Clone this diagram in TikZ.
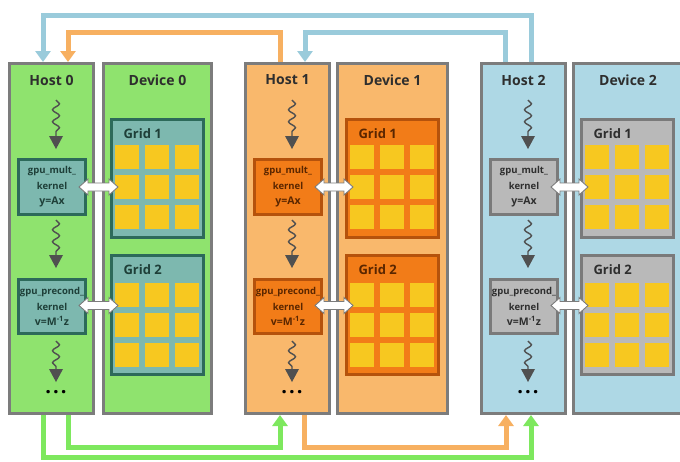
\documentclass[tikz,border=0pt]{standalone}
\usepackage{fontspec}
\setmainfont{Open Sans}
\usetikzlibrary{arrows.meta,decorations.pathmorphing,calc}
\definecolor{gfill}{HTML}{8FE36E}
\definecolor{ofill}{HTML}{F9B86C}
\definecolor{bfill}{HTML}{AED8E5}
\definecolor{boxline}{HTML}{7C7C7C}
\definecolor{tealfill}{HTML}{7DB8AF}
\definecolor{tealline}{HTML}{2D6A5A}
\definecolor{tealtext}{HTML}{1E3F38}
\definecolor{orgfill}{HTML}{F27C18}
\definecolor{orgline}{HTML}{B5520C}
\definecolor{orgtext}{HTML}{5A2600}
\definecolor{grayfill}{HTML}{B9B9B9}
\definecolor{grayline}{HTML}{7A7A7A}
\definecolor{graytext}{HTML}{2E2E2E}
\definecolor{cellc}{HTML}{F7C820}
\definecolor{lblue}{HTML}{9ACBDB}
\definecolor{lorange}{HTML}{F7B061}
\definecolor{lgreen}{HTML}{7EE85E}
\definecolor{squig}{HTML}{505050}
\definecolor{titletext}{HTML}{2E2E2E}
\tikzset{
  hostbox/.style={draw=boxline,line width=3pt,anchor=north west,minimum height=350pt,inner sep=0pt},
  kern/.style={line width=3pt,minimum width=67pt,align=center,inner sep=0pt,font=\bfseries\fontsize{9.5}{15.5}\selectfont},
  gridbox/.style={line width=3pt,anchor=north west,minimum width=92pt,inner sep=0pt},
  titlelab/.style={font=\bfseries\fontsize{14}{14}\selectfont,text=titletext},
  gridlabel/.style={font=\bfseries\fontsize{13}{13}\selectfont,anchor=west},
  conn/.style={line width=5pt,-{Triangle[width=15pt,length=11pt]}},
  dbl/.style={fill=white,draw=boxline,line width=0.9pt,line join=miter},
  squiggle/.style={draw=squig,line width=1.4pt,decorate,decoration={snake,amplitude=3.5pt,segment length=12pt}},
}
\begin{document}
\begin{tikzpicture}[x=1pt,y=-1pt]
\useasboundingbox (0,0) rectangle (680,461);
\fill[white] (0,0) rectangle (680,461);
\foreach \i/\hx/\dx/\dw/\gx/\fc/\gf/\gl/\tc in {
  0/8/102/111/110/gfill/tealfill/tealline/tealtext,
  1/244/336/113/345/ofill/orgfill/orgline/orgtext,
  2/480/572/112/580/bfill/grayfill/grayline/graytext}{
  % host and device columns
  \node[hostbox,fill=\fc,minimum width=84pt] (h\i) at (\hx,62) {};
  \node[hostbox,fill=\fc,minimum width={\dw-3}] (d\i) at (\dx,62) {};
  \node[titlelab] (ht\i) at (\hx+43.5,80) {Host \i};
  \node[titlelab] (dt\i) at (\dx+\dw/2,80) {Device \i};
  % grids
  \node[gridbox,draw=\gl,fill=\gf,minimum height=118pt] (ga\i) at (\gx,118) {};
  \node[gridbox,draw=\gl,fill=\gf,minimum height=119pt] (gb\i) at (\gx,254) {};
  \node[gridlabel,text=\tc] (gal\i) at (\gx+10,134) {Grid 1};
  \node[gridlabel,text=\tc] (gbl\i) at (\gx+10,270) {Grid 2};
  \foreach \r in {0,1,2}{
    \foreach \c in {0,1,2}{
      \fill[cellc] (\gx+5+30*\c,145+30*\r) rectangle ++(24,24);
      \fill[cellc] (\gx+5+30*\c,283+30*\r) rectangle ++(24,24);
    }
  }
  % kernels
  \node[kern,draw=\gl,fill=\gf,text=\tc,minimum height=55pt] (ka\i) at (\hx+44,187)
    {gpu\_mult\_\\kernel\\{\fontsize{10.5}{15.5}\selectfont y=Ax}};
  \node[kern,draw=\gl,fill=\gf,text=\tc,minimum height=54pt] (kb\i) at (\hx+44,306.5)
    {gpu\_precond\_\\kernel\\{\fontsize{10.5}{15.5}\selectfont v=M\textsuperscript{-1}z}};
  % double arrows kernel <-> grid
  \coordinate (da) at ([xshift=-8pt]ka\i.east);
  \coordinate (db) at ([xshift=8pt]ga\i.west |- ka\i.east);
  \draw[dbl] (da) -- ($(da)+(9,-8)$) -- ($(da)+(9,-4)$) -- ($(db)+(-9,-4)$) -- ($(db)+(-9,-8)$) -- (db)
     -- ($(db)+(-9,8)$) -- ($(db)+(-9,4)$) -- ($(da)+(9,4)$) -- ($(da)+(9,8)$) -- cycle;
  \coordinate (da) at ([xshift=-8pt,yshift=1pt]kb\i.east);
  \coordinate (db) at ([xshift=8pt]gb\i.west |- da);
  \draw[dbl] (da) -- ($(da)+(9,-8)$) -- ($(da)+(9,-4)$) -- ($(db)+(-9,-4)$) -- ($(db)+(-9,-8)$) -- (db)
     -- ($(db)+(-9,8)$) -- ($(db)+(-9,4)$) -- ($(da)+(9,4)$) -- ($(da)+(9,8)$) -- cycle;
  % squiggly flow arrows
  \draw[squiggle] (\hx+48,100) -- (\hx+48,137);
  \fill[squig] (\hx+41,136) -- (\hx+55,136) -- (\hx+48,149) -- cycle;
  \draw[squiggle] (\hx+48,220) -- (\hx+48,256);
  \fill[squig] (\hx+41,255) -- (\hx+55,255) -- (\hx+48,268) -- cycle;
  \draw[squiggle] (\hx+48,341) -- (\hx+48,370);
  \fill[squig] (\hx+41,369) -- (\hx+55,369) -- (\hx+48,382) -- cycle;
  \node[font=\bfseries\fontsize{20}{20}\selectfont,text=black] (dots\i) at (\hx+48,392) {.\hspace{2pt}.\hspace{2pt}.};
}
% connector ports
\coordinate (h0tl) at ([xshift=-8.5pt]h0.north);
\coordinate (h0tr) at ([xshift=16.5pt]h0.north);
\coordinate (h1tl) at ([xshift=-7.5pt]h1.north);
\coordinate (h1tr) at ([xshift=17.5pt]h1.north);
\coordinate (h2tl) at ([xshift=-18.5pt]h2.north);
\coordinate (h2tr) at ([xshift=7.5pt]h2.north);
\coordinate (h0bl) at ([xshift=-8.5pt]h0.south);
\coordinate (h0br) at ([xshift=16.5pt]h0.south);
\coordinate (h1bl) at ([xshift=-7.5pt]h1.south);
\coordinate (h1br) at ([xshift=16.5pt]h1.south);
\coordinate (h2bl) at ([xshift=-17.5pt]h2.south);
\coordinate (h2br) at ([xshift=7.5pt]h2.south);
\coordinate (topA) at (0,15);
\coordinate (topB) at (0,32);
\coordinate (botA) at (0,447);
\coordinate (botB) at (0,457);
% top connectors
\draw[conn,lblue] (h2tr) -- (h2tr |- topA) -- (h0tl |- topA) -- (h0tl);
\draw[conn,lorange] (h1tl) -- (h1tl |- topB) -- (h0tr |- topB) -- (h0tr);
\draw[conn,lblue] (h2tl) -- (h2tl |- topB) -- (h1tr |- topB) -- (h1tr);
% bottom connectors
\draw[conn,lgreen] (h0bl) -- (h0bl |- botB) -- (h2br |- botB) -- (h2br);
\draw[conn,lgreen] (h0br) -- (h0br |- botA) -- (h1bl |- botA) -- (h1bl);
\draw[conn,lorange] (h1br) -- (h1br |- botA) -- (h2bl |- botA) -- (h2bl);
\end{tikzpicture}
\end{document}
